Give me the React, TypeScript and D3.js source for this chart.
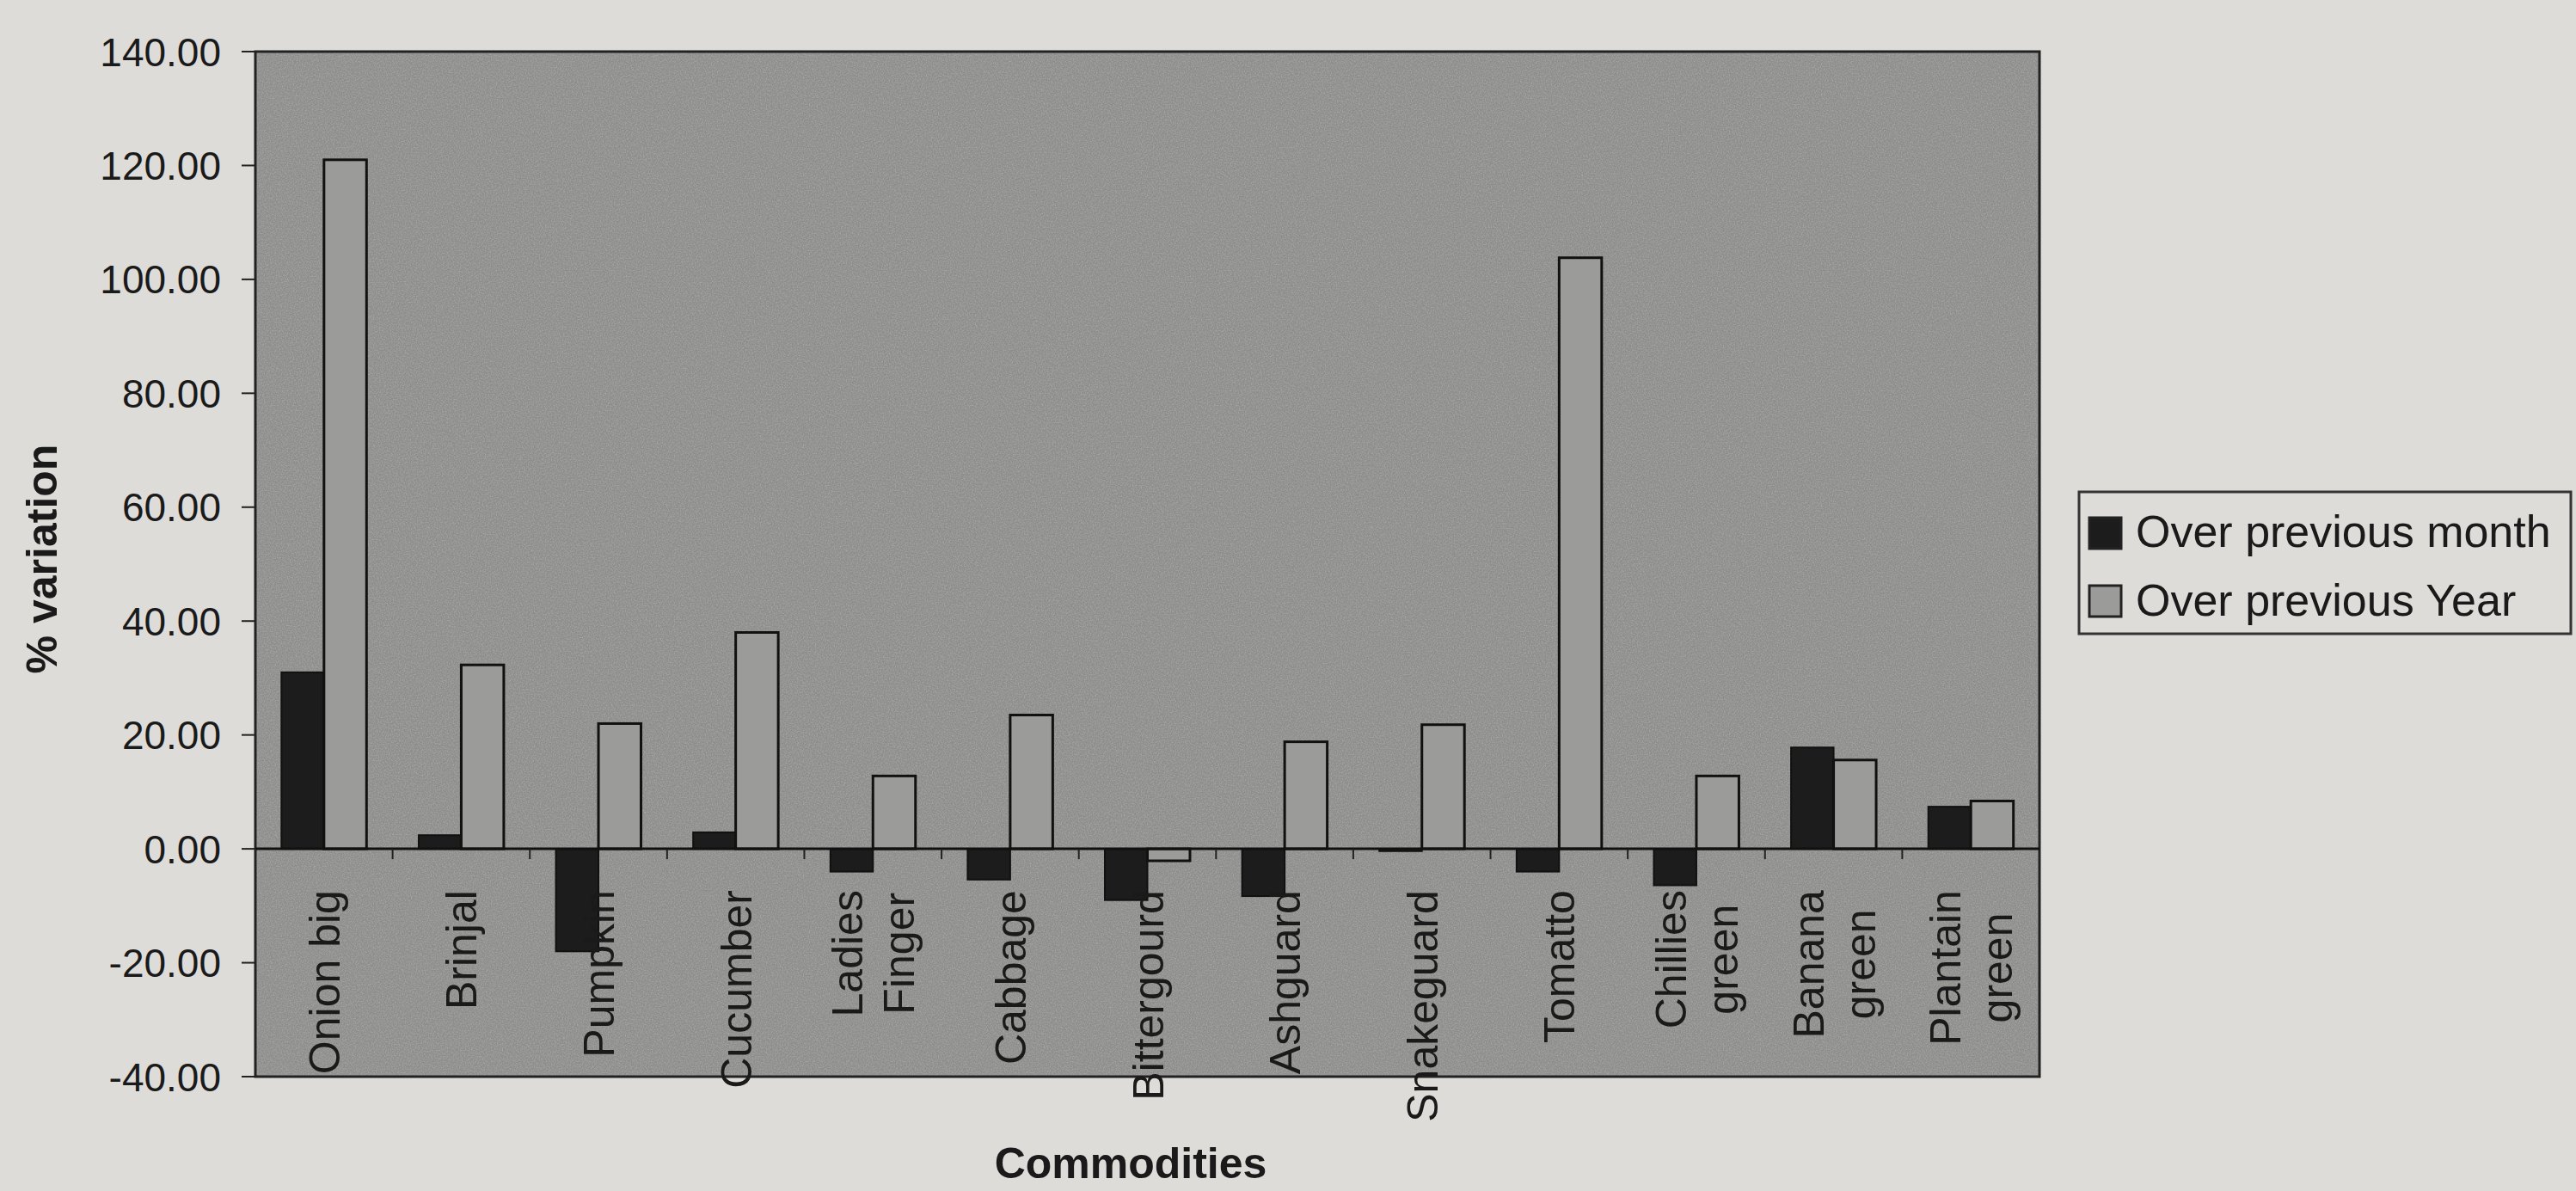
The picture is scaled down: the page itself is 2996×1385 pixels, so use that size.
import React from "react";
import * as d3 from "d3";

const categories = [
  "Onion big",
  "Brinjal",
  "Pumpkin",
  "Cucumber",
  "Ladies|Finger",
  "Cabbage",
  "Bittergourd",
  "Ashguard",
  "Snakeguard",
  "Tomatto",
  "Chillies|green",
  "Banana|green",
  "Plantain|green",
];
const overPreviousMonth = [31.0, 2.4, -18.0, 2.9, -4.0, -5.4, -9.0, -8.3, -0.4, -4.0, -6.4, 17.8, 7.4];
const overPreviousYear = [121.0, 32.3, 22.0, 38.0, 12.8, 23.5, -2.1, 18.8, 21.8, 103.8, 12.8, 15.6, 8.4];
const seriesNames = ["Over previous month", "Over previous Year"];
const yTicks = [-40, -20, 0, 20, 40, 60, 80, 100, 120, 140];
const yDomain = [-40, 140];

const W = 2996;
const H = 1385;
const plot = { left: 297, right: 2372, top: 60, bottom: 1252 };
const FONT = "Arial, 'Liberation Sans', Helvetica, sans-serif";

const bg = "#dedcd8";
const plotFill = "#8d8d8b";
const monthFill = "#1c1c1c";
const yearFill = "#9b9b99";

function measure(text: string, size: number): number {
  if (typeof document === "undefined") return text.length * size * 0.5;
  const c = document.createElement("canvas");
  const ctx = c.getContext("2d");
  if (!ctx) return text.length * size * 0.5;
  ctx.font = `${size}px ${FONT}`;
  return ctx.measureText(text).width;
}

export default function App() {
  const x = d3.scaleBand<string>().domain(categories).range([plot.left, plot.right]).paddingInner(0).paddingOuter(0);
  const y = d3.scaleLinear().domain(yDomain).range([plot.bottom, plot.top]);
  const bw = x.bandwidth();
  const barW = bw * 0.31;
  const y0 = y(0);
  const fmt = (v: number) => d3.format(".2f")(v).replace("\u2212", "-");
  const catFont = 50;
  const labelTop = y0 + 48;

  return (
    <svg
      width={W}
      height={H}
      viewBox={`0 0 ${W} ${H}`}
      style={{ position: "absolute", left: 0, top: 0, display: "block" }}
      fontFamily={FONT}
    >
      <defs>
        <filter id="grain" x="0" y="0" width="100%" height="100%">
          <feTurbulence type="fractalNoise" baseFrequency="0.7" numOctaves="2" seed="3" result="n" />
          <feColorMatrix
            type="matrix"
            values="0 0 0 0 0.5  0 0 0 0 0.5  0 0 0 0 0.5  0 0 0 2.2 -0.8"
          />
        </filter>
      </defs>
      <rect x={0} y={0} width={W} height={H} fill={bg} />

      {/* plot area */}
      <rect x={plot.left} y={plot.top} width={plot.right - plot.left} height={plot.bottom - plot.top} fill={plotFill} />
      <rect
        x={plot.left}
        y={plot.top}
        width={plot.right - plot.left}
        height={plot.bottom - plot.top}
        fill="#000"
        filter="url(#grain)"
        opacity={0.5}
      />

      {/* bars */}
      {categories.map((c, i) => {
        const cx = (x(c) as number) + bw / 2;
        const m = overPreviousMonth[i];
        const yr = overPreviousYear[i];
        return (
          <g key={c}>
            <rect
              x={cx - barW}
              y={Math.min(y(m), y0)}
              width={barW}
              height={Math.abs(y(m) - y0)}
              fill={monthFill}
              stroke="#111"
              strokeWidth={2}
            />
            <rect
              x={cx}
              y={Math.min(y(yr), y0)}
              width={barW}
              height={Math.abs(y(yr) - y0)}
              fill={yearFill}
              stroke="#111"
              strokeWidth={3}
            />
          </g>
        );
      })}

      {/* plot border */}
      <rect
        x={plot.left}
        y={plot.top}
        width={plot.right - plot.left}
        height={plot.bottom - plot.top}
        fill="none"
        stroke="#222"
        strokeWidth={3}
      />

      {/* zero line and category ticks */}
      <line x1={plot.left} x2={plot.right} y1={y0} y2={y0} stroke="#111" strokeWidth={3} />
      {categories.map((c) => (
        <line key={"t" + c} x1={x(c) as number} x2={x(c) as number} y1={y0} y2={y0 + 12} stroke="#222" strokeWidth={2} />
      ))}

      {/* y axis */}
      {yTicks.map((t) => (
        <g key={"y" + t}>
          <line x1={plot.left - 16} x2={plot.left} y1={y(t)} y2={y(t)} stroke="#222" strokeWidth={2} />
          <text x={plot.left - 40} y={y(t)} dy="0.36em" textAnchor="end" fontSize={46} fill="#1a1a1a">
            {fmt(t)}
          </text>
        </g>
      ))}

      {/* category labels */}
      {categories.map((c) => {
        const lines = c.split("|");
        const cx = (x(c) as number) + bw / 2;
        const maxLen = Math.max(...lines.map((l) => measure(l, catFont)));
        const mid = labelTop + maxLen / 2;
        const gap = 60;
        return lines.map((l, j) => {
          const lx = cx + (j - (lines.length - 1) / 2) * gap;
          return (
            <text
              key={c + j}
              transform={`translate(${lx},${mid}) rotate(-90)`}
              textAnchor="middle"
              dy="0.36em"
              fontSize={catFont}
              fill="#1a1a1a"
            >
              {l}
            </text>
          );
        });
      })}

      {/* axis titles */}
      <text
        transform={`translate(${48},${650}) rotate(-90)`}
        textAnchor="middle"
        dy="0.36em"
        fontSize={50}
        fontWeight="bold"
        fill="#1a1a1a"
      >
        % variation
      </text>
      <text x={1315} y={1370} textAnchor="middle" fontSize={50} fontWeight="bold" fill="#1a1a1a">
        Commodities
      </text>

      {/* legend */}
      <rect x={2418} y={572} width={572} height={165} fill={bg} stroke="#333" strokeWidth={3} />
      {seriesNames.map((s, i) => (
        <g key={s}>
          <rect
            x={2430}
            y={602 + i * 79}
            width={37}
            height={36}
            fill={i === 0 ? monthFill : yearFill}
            stroke="#222"
            strokeWidth={3}
          />
          <text x={2484} y={636 + i * 80} fontSize={52} fill="#1a1a1a">
            {s}
          </text>
        </g>
      ))}
    </svg>
  );
}
